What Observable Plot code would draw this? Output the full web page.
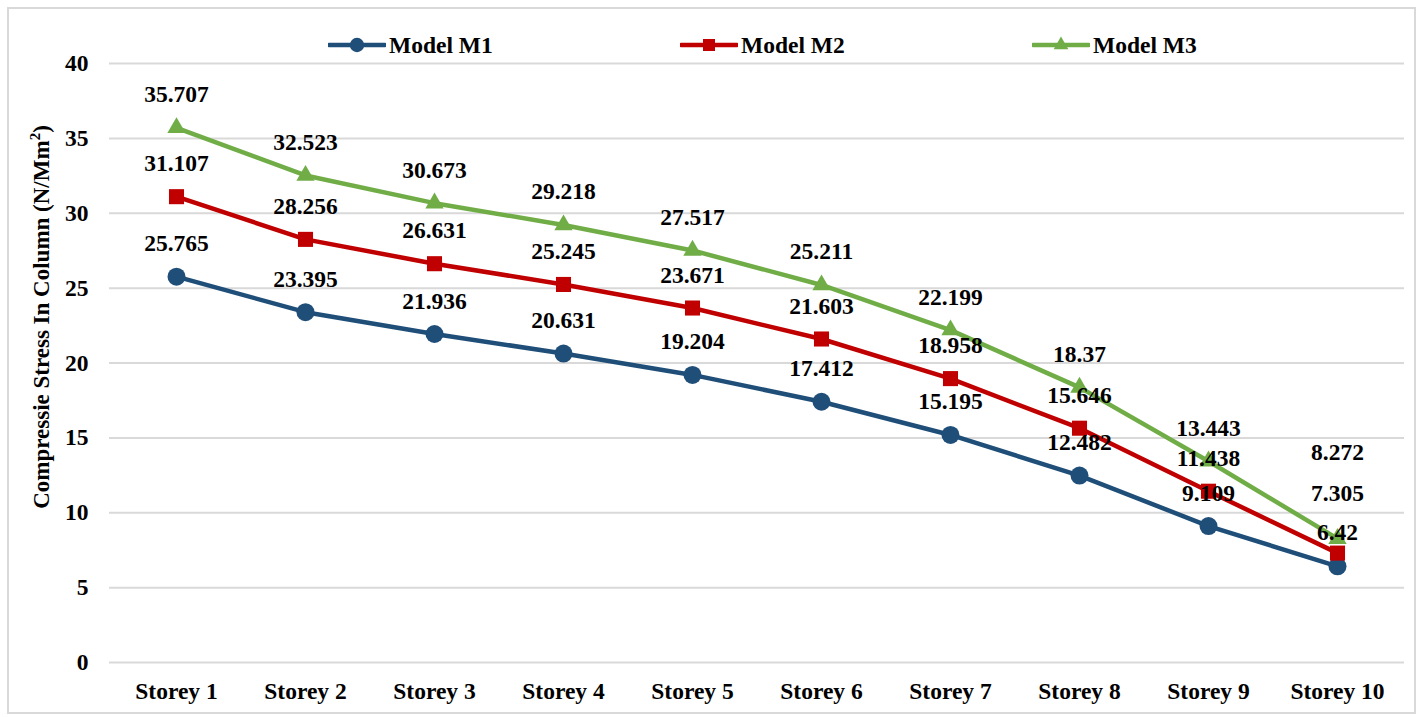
<!DOCTYPE html>
<html>
<head>
<meta charset="utf-8">
<script src="https://cdn.jsdelivr.net/npm/d3@7"></script>
<script src="https://cdn.jsdelivr.net/npm/@observablehq/plot@0.6"></script>
<style>
  html, body { margin: 0; padding: 0; background: #fff; }
  #wrap { position: relative; width: 1418px; height: 717px; overflow: hidden; font-family: "Liberation Serif", "Times New Roman", serif; font-weight: bold; }
  #frame { position: absolute; left: 7px; top: 7px; width: 1405px; height: 703px; border: 2px solid #d9d9d9; box-sizing: content-box; }
  #chart { position: absolute; left: 0; top: 0; }
  .leg { position: absolute; top: 31px; height: 28px; display: flex; align-items: center; font-size: 23.5px; color: #000; }
  .leg svg { display: block; margin-right: 3px; }
  #ytitle { position: absolute; left: 41px; top: 317px; transform: translate(-50%, -50%) rotate(-90deg); white-space: nowrap; font-size: 23px; color: #000; }
</style>
</head>
<body>
<div id="wrap">
  <div id="frame"></div>
  <div id="chart"></div>
  <div id="ytitle">Compressie Stress In Column (N/Mm<sup style="font-size:15px">2</sup>)</div>
  <div id="legend"></div>
</div>
<script>
const storeys = ["Storey 1","Storey 2","Storey 3","Storey 4","Storey 5","Storey 6","Storey 7","Storey 8","Storey 9","Storey 10"];
const seriesNames = ["Model M1","Model M2","Model M3"];
const seriesColors = ["#1f4e79","#c00000","#70ad47"];
const seriesSymbols = ["circle","square","triangle"];
const m1 = [25.765,23.395,21.936,20.631,19.204,17.412,15.195,12.482,9.109,6.42];
const m2 = [31.107,28.256,26.631,25.245,23.671,21.603,18.958,15.646,11.438,7.305];
const m3 = [35.707,32.523,30.673,29.218,27.517,25.211,22.199,18.37,13.443,8.272];
const yTicks = [0,5,10,15,20,25,30,35,40];

const seriesValues = [m1, m2, m3];
const rows = [];
seriesValues.forEach((vals, si) => {
  vals.forEach((v, i) => rows.push({storey: storeys[i], value: v, series: seriesNames[si]}));
});
const symR = {"circle": 9, "square": 8.5, "triangle": 6.8};
const FS = 23.5;
// label offsets above the points (the last storey's labels are staggered to avoid overlap)
const lastDy = {"Model M1": -34, "Model M2": -60, "Model M3": -86};

const marks = [
  Plot.ruleY(yTicks, {stroke: "#d9d9d9", strokeWidth: 2}),
  Plot.axisY({ticks: yTicks, tickSize: 0, tickPadding: 21, fontSize: FS, label: null, fontWeight: "bold"}),
  Plot.axisX({tickSize: 0, tickPadding: 20, fontSize: FS, label: null, fontWeight: "bold"})
];
seriesNames.forEach((name, si) => {
  const d = rows.filter(r => r.series === name);
  marks.push(Plot.line(d, {x: "storey", y: "value", stroke: seriesColors[si], strokeWidth: 4.5}));
  marks.push(Plot.dot(d, {x: "storey", y: "value", fill: seriesColors[si], stroke: "none", symbol: () => seriesSymbols[si], r: symR[seriesSymbols[si]]}));
});
const lastStorey = storeys[storeys.length - 1];
seriesNames.forEach((name, si) => {
  const d = rows.filter(r => r.series === name && r.storey !== lastStorey);
  const dl = rows.filter(r => r.series === name && r.storey === lastStorey);
  marks.push(Plot.text(d, {x: "storey", y: "value", text: r => String(r.value), dy: -33, fontSize: FS, fontWeight: "bold", fill: "#000"}));
  marks.push(Plot.text(dl, {x: "storey", y: "value", text: r => String(r.value), dy: lastDy[name], fontSize: FS, fontWeight: "bold", fill: "#000"}));
});

const chart = Plot.plot({
  width: 1418,
  height: 717,
  marginLeft: 109,
  marginRight: 14,
  marginTop: 63,
  marginBottom: 55,
  style: {fontFamily: "'Liberation Serif', 'Times New Roman', serif", background: "transparent", color: "#000"},
  x: {type: "point", domain: storeys, padding: 0.5, align: 0.5},
  y: {domain: [0, 40]},
  symbol: {type: "identity"},
  marks
});
document.getElementById("chart").appendChild(chart);

// legend
const legendX = [328, 680, 1032];
const legend = document.getElementById("legend");
seriesNames.forEach((name, si) => {
  const item = document.createElement("div");
  item.className = "leg";
  item.style.left = legendX[si] + "px";
  const sw = d3.create("svg").attr("width", 58).attr("height", 28);
  sw.append("line").attr("x1", 1).attr("x2", 57).attr("y1", 14).attr("y2", 14)
    .attr("stroke", seriesColors[si]).attr("stroke-width", 4.5).attr("stroke-linecap", "round");
  const sym = {circle: d3.symbolCircle, square: d3.symbolSquare, triangle: d3.symbolTriangle}[seriesSymbols[si]];
  const r = symR[seriesSymbols[si]] * 0.8;
  sw.append("path").attr("transform", "translate(29,14)").attr("d", d3.symbol(sym, Math.PI * r * r)())
    .attr("fill", seriesColors[si]);
  item.appendChild(sw.node());
  const t = document.createElement("span");
  t.textContent = name;
  item.appendChild(t);
  legend.appendChild(item);
});
</script>
</body>
</html>
